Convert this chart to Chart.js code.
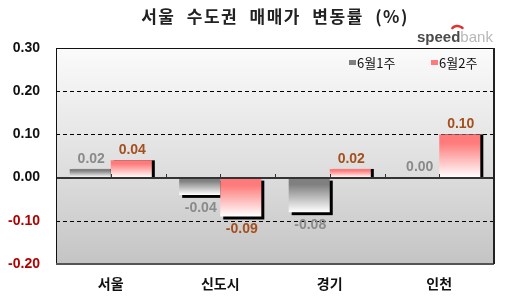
<!DOCTYPE html>
<html>
<head>
<meta charset="utf-8">
<script src="https://cdn.jsdelivr.net/npm/chart.js@4/dist/chart.umd.min.js"></script>
<style>
  html, body { margin: 0; padding: 0; background: #fff; }
  #wrap { width: 515px; height: 300px; }
</style>
</head>
<body>
<div id="wrap"><canvas id="chart" width="515" height="300"></canvas></div>
<script>
// data
var categories = ['서울', '신도시', '경기', '인천'];
var seriesNames = ['6월1주', '6월2주'];
var week1 = [0.02, -0.04, -0.08, 0.00];
var week2 = [0.04, -0.09, 0.02, 0.10];
var yMin = -0.2, yMax = 0.3, yStep = 0.1;

var titleText = '서울 수도권 매매가 변동률 (%)';
var barColors = ['#808080', '#ff7b7b'];
var labelColors = ['#8a8a8a', '#a4501e'];

function barGradient(color) {
  return function(c) {
    var chart = c.chart;
    var y = chart.scales.y;
    if (!chart.chartArea || !y || c.type !== 'data') return color;
    var p0 = y.getPixelForValue(0);
    var p1 = y.getPixelForValue(c.raw);
    var top = Math.min(p0, p1), bot = Math.max(p0, p1);
    if (bot - top < 1) return color;
    var g = chart.ctx.createLinearGradient(0, top, 0, bot);
    g.addColorStop(0, color);
    g.addColorStop(0.2, color);
    g.addColorStop(1, '#ffffff');
    return g;
  };
}

var decor = {
  id: 'decor',
  beforeDraw: function(chart) {
    var ctx = chart.ctx, a = chart.chartArea;
    ctx.save();
    ctx.fillStyle = '#fff';
    ctx.fillRect(0, 0, chart.width, chart.height);
    var g = ctx.createLinearGradient(0, a.top, 0, a.bottom);
    g.addColorStop(0, '#fbfbfb');
    g.addColorStop(0.6, '#dcdcdc');
    g.addColorStop(1, '#c4c4c4');
    ctx.fillStyle = g;
    ctx.fillRect(a.left, a.top, a.right - a.left, a.bottom - a.top);
    ctx.restore();
  },
  beforeDatasetsDraw: function(chart) {
    var ctx = chart.ctx, a = chart.chartArea, y = chart.scales.y;
    ctx.save();
    // dashed grid lines
    ctx.strokeStyle = '#000';
    ctx.lineWidth = 1;
    ctx.setLineDash([4, 3]);
    y.ticks.forEach(function(t) {
      if (t.value <= yMin + 1e-9 || t.value >= yMax - 1e-9 || Math.abs(t.value) < 1e-9) return;
      var py = Math.round(y.getPixelForValue(t.value)) + 0.5;
      ctx.beginPath();
      ctx.moveTo(a.left, py);
      ctx.lineTo(a.right, py);
      ctx.stroke();
    });
    ctx.setLineDash([]);
    // bar shadows
    var base = y.getPixelForValue(0);
    ctx.fillStyle = '#000';
    chart.data.datasets.forEach(function(ds, i) {
      chart.getDatasetMeta(i).data.forEach(function(bar, j) {
        var v = ds.data[j];
        if (v === 0) return;
        var left = bar.x - bar.width / 2 + 3, w = bar.width;
        if (v > 0) ctx.fillRect(left, bar.y, w, base - bar.y);
        else ctx.fillRect(left, base + 3, w, bar.y - base);
      });
    });
    ctx.restore();
  },
  afterDatasetsDraw: function(chart) {
    var ctx = chart.ctx, a = chart.chartArea, y = chart.scales.y, x = chart.scales.x;
    var base = Math.round(y.getPixelForValue(0));
    ctx.save();
    // zero line
    ctx.fillStyle = '#333';
    ctx.fillRect(a.left, base - 1, a.right - a.left, 2);
    // tiny ticks on the zero line
    var step = (x.getPixelForValue(1) - x.getPixelForValue(0)) / 2;
    for (var k = 1; k < categories.length * 2; k++) {
      var px = Math.round(x.getPixelForValue(0) - step + k * step);
      ctx.fillRect(px, base - 4, 1, 4);
    }
    // border
    ctx.strokeStyle = '#111';
    ctx.lineWidth = 1;
    ctx.strokeRect(a.left + 0.5, a.top + 0.5, a.right - a.left - 1, a.bottom - a.top);
    ctx.fillStyle = '#555';
    ctx.fillRect(a.left, a.bottom - 1, a.right - a.left, 2);
    ctx.fillStyle = '#222';
    ctx.fillRect(a.right - 1, a.top, 2, a.bottom - a.top);
    // value labels
    ctx.font = 'bold 14px "Liberation Sans", Arial, sans-serif';
    ctx.textAlign = 'center';
    ctx.textBaseline = 'middle';
    chart.data.datasets.forEach(function(ds, i) {
      ctx.fillStyle = labelColors[i];
      chart.getDatasetMeta(i).data.forEach(function(bar, j) {
        var v = ds.data[j];
        var ly = v >= 0 ? bar.y - 10 : bar.y + 13;
        ctx.fillText(v.toFixed(2), bar.x + 1, ly);
      });
    });
    ctx.restore();
  },
  afterDraw: function(chart) {
    var ctx = chart.ctx, a = chart.chartArea;
    ctx.save();
    // title
    ctx.fillStyle = '#222';
    ctx.font = 'bold 17px "Noto Sans CJK KR", sans-serif';
    ctx.letterSpacing = '1.5px';
    ctx.wordSpacing = '6px';
    ctx.textAlign = 'center';
    ctx.textBaseline = 'middle';
    ctx.fillText(titleText, (a.left + a.right) / 2, 17);
    ctx.letterSpacing = '0px';
    ctx.wordSpacing = '0px';
    // logo
    ctx.textAlign = 'left';
    ctx.textBaseline = 'alphabetic';
    ctx.font = 'bold 15px "Liberation Sans", Arial, sans-serif';
    var lx = 417;
    ctx.fillStyle = '#4a4a4a';
    ctx.fillText('speed', lx, 42);
    var sw = ctx.measureText('speed').width;
    ctx.font = '15px "Liberation Sans", Arial, sans-serif';
    ctx.fillStyle = '#b8b8b8';
    ctx.fillText('bank', lx + sw, 42);
    ctx.strokeStyle = '#e03030';
    ctx.lineWidth = 2.5;
    ctx.beginPath();
    ctx.arc(lx + sw - 3, 33, 7, Math.PI * 1.2, Math.PI * 1.8);
    ctx.stroke();
    // legend
    ctx.font = '13px "Noto Sans CJK KR", sans-serif';
    ctx.textBaseline = 'middle';
    var items = [{x: 349}, {x: 431}];
    items.forEach(function(it, i) {
      ctx.fillStyle = barColors[i];
      ctx.fillRect(it.x, 60, 7, 5);
      ctx.fillStyle = '#111';
      ctx.fillText(seriesNames[i], it.x + 8, 63);
    });
    ctx.restore();
  }
};

var ctx = document.getElementById('chart').getContext('2d');
var chart = new Chart(ctx, {
  type: 'bar',
  data: {
    labels: categories,
    datasets: [
      { label: seriesNames[0], data: week1, backgroundColor: barGradient(barColors[0]), borderWidth: 0 },
      { label: seriesNames[1], data: week2, backgroundColor: barGradient(barColors[1]), borderWidth: 0 }
    ]
  },
  options: {
    responsive: false,
    animation: false,
    layout: { padding: { top: 48, right: 21, left: 0, bottom: 0 } },
    plugins: { legend: { display: false }, tooltip: { enabled: false } },
    datasets: { bar: { categoryPercentage: 0.75, barPercentage: 1 } },
    scales: {
      x: {
        grid: { display: false, drawTicks: false },
        border: { display: false },
        ticks: { color: '#111', padding: 11, font: { family: '"Noto Sans CJK KR", sans-serif', size: 14, weight: 'bold' } },
        afterFit: function(s) { s.height = 36; }
      },
      y: {
        min: yMin, max: yMax,
        grid: { display: false, drawTicks: false },
        border: { display: false },
        ticks: {
          stepSize: yStep,
          padding: 16,
          color: function(c) { return c.tick && c.tick.value < 0 ? '#b00000' : '#111'; },
          font: { family: '"Liberation Sans", Arial, sans-serif', size: 14, weight: 'bold' },
          callback: function(v) { return Number(v).toFixed(2); }
        },
        afterFit: function(s) { s.width = 56; }
      }
    }
  },
  plugins: [decor]
});
</script>
</body>
</html>
